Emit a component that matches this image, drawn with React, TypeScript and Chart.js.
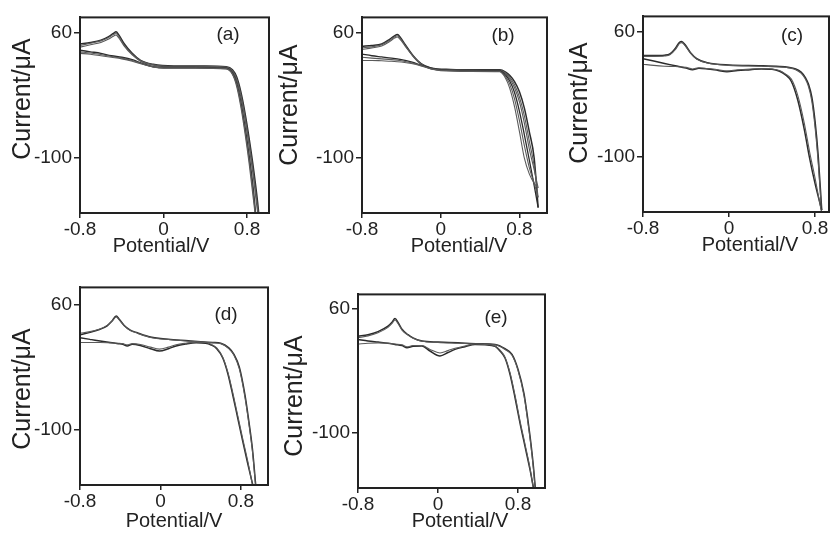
import React, { useEffect, useRef } from "react";
import { Chart, registerables } from "chart.js";

Chart.register(...registerables);

// ---------- axis texts ----------
const X_TICKS = [-0.8, 0, 0.8];
const X_TICK_LABELS = ["-0.8", "0", "0.8"];
const Y_TICKS = [-100, 60];
const Y_TICK_LABELS = ["-100", "60"];
const X_TITLE = "Potential/V";
const Y_TITLE = "Current/\u03bcA";
const PANEL_LABELS = ["(a)", "(b)", "(c)", "(d)", "(e)"];

// ---------- panel (a) ----------
const A_UP_X = [-0.8, -0.7, -0.6, -0.53, -0.48, -0.455, -0.43, -0.38, -0.3, -0.22, -0.1, 0.1, 0.4, 0.6, 0.66, 0.7, 0.74, 0.78, 0.82, 0.86, 0.9, 0.915];
const A_UP_Y1 = [46, 48, 51, 55, 59.5, 61.5, 58, 47, 34, 25, 20, 18, 18, 17, 13, 4, -15, -42, -75, -112, -155, -175];
const A_UP_Y2 = [44, 47, 50, 54, 58, 59.5, 56, 45, 33, 24.5, 19.5, 17.5, 17.5, 16.5, 12, 2, -18, -46, -80, -118, -162, -178];
const A_UP_Y3 = [42, 45, 48, 52, 56, 57.5, 54, 44, 32, 24, 19, 17, 17, 16, 11, 0, -21, -50, -85, -124, -168, -180];
const A_LOW_X = [-0.8, -0.7, -0.6, -0.5, -0.4, -0.3, -0.2, -0.1, 0, 0.3, 0.6, 0.66, 0.7, 0.74, 0.78, 0.82, 0.86, 0.885];
const A_LOW_Y1 = [38, 36, 34, 31, 29, 26, 21, 17, 16, 16, 15, 9, -4, -28, -60, -97, -140, -175];
const A_LOW_Y2 = [36, 34.5, 32.5, 30, 28, 25, 20.5, 17, 15.5, 15.5, 14.5, 8, -6, -31, -64, -102, -146, -178];
const A_LOW_Y3 = [34, 33, 31, 29, 27, 24, 20, 16.5, 15, 15, 14, 7, -8, -34, -68, -107, -152, -180];

// ---------- panel (b) ----------
const B_UP_X = [-0.8, -0.7, -0.6, -0.52, -0.47, -0.44, -0.41, -0.36, -0.28, -0.2, -0.1, 0.1, 0.4, 0.6, 0.66, 0.7, 0.75, 0.8, 0.85, 0.9, 0.95, 0.99];
const B_UP_Y1 = [43, 44, 46, 52, 56.5, 58, 54.5, 45, 31, 21, 15.5, 13.5, 13, 13, 10, 6, -2, -15, -36, -66, -100, -163];
const B_UP_Y2 = [41, 42.5, 45, 50.5, 55, 56.5, 53, 44, 30.5, 20.5, 15, 13, 12.5, 12.5, 9, 4, -6, -22, -46, -78, -110, -150];
const B_UP_Y3 = [39, 41, 43.5, 49, 53.5, 55, 51.5, 43, 30, 20, 14.5, 12.5, 12, 12, 8, 2, -10, -28, -55, -88, -115, -138];
const B_LOW_X = [-0.8, -0.7, -0.6, -0.5, -0.4, -0.3, -0.2, -0.1, 0, 0.3, 0.6, 0.66, 0.7, 0.75, 0.8, 0.85, 0.9, 0.95, 0.99];
const B_LOW_Y1 = [33, 31, 29.5, 28, 26, 23, 19, 15, 13, 12, 11.5, 6, -1, -16, -40, -70, -102, -135, -163];
const B_LOW_Y2 = [29, 28, 27, 26, 24.5, 22, 18.5, 14.5, 12.5, 11.5, 11, 4, -5, -24, -52, -84, -112, -132, -150];
const B_LOW_Y3 = [25, 25, 24.5, 24, 23, 21, 18, 14, 12, 11, 10.5, 2, -10, -34, -66, -100, -120, -132, -138];

// ---------- panel (c) ----------
const C_UP_X = [-0.8, -0.7, -0.6, -0.55, -0.5, -0.46, -0.44, -0.41, -0.36, -0.3, -0.2, 0, 0.3, 0.47, 0.55, 0.62, 0.67, 0.71, 0.74, 0.77, 0.8, 0.83, 0.862];
const C_UP_Y1 = [29, 29, 29.5, 31, 38, 46, 47, 43, 33, 25, 20, 17, 16, 15, 14, 12, 8, 1, -8, -24, -55, -100, -168];
const C_UP_Y2 = [28, 28, 28.5, 30, 36.5, 44.5, 45.5, 42, 32.5, 24.5, 19.5, 16.5, 15.5, 14.5, 13.5, 11, 6.5, -1, -11, -29, -62, -108, -172];
const C_LOW_X = [-0.8, -0.7, -0.6, -0.5, -0.4, -0.34, -0.28, -0.2, -0.1, -0.02, 0.08, 0.2, 0.3, 0.4, 0.47, 0.52, 0.58, 0.64, 0.7, 0.75, 0.8, 0.862];
const C_LOW_Y1 = [25, 22, 19, 16, 13, 11, 13, 12, 10, 8.5, 10, 11, 12, 11.5, 9, 5, -4, -28, -65, -102, -134, -168];
const C_LOW_Y2 = [18, 16.5, 15.5, 15, 14, 12, 13.5, 12.5, 11, 9.5, 11, 12, 12.5, 12, 10, 6, -1, -22, -57, -94, -127, -172];

// ---------- panel (d) ----------
const D_UP_X = [-0.8, -0.7, -0.6, -0.53, -0.48, -0.44, -0.41, -0.36, -0.3, -0.23, -0.1, 0.1, 0.3, 0.52, 0.6, 0.68, 0.73, 0.785, 0.84, 0.88, 0.915, 0.95];
const D_UP_Y1 = [22, 25, 29, 33.5, 40, 46, 42, 34, 28, 24.5, 19, 16, 14, 12, 11, 5, -3, -20, -55, -90, -125, -175];
const D_UP_Y2 = [24, 26, 29.5, 34, 39.5, 45, 41, 33.5, 27.5, 24, 18.5, 15.5, 13.5, 11.5, 10.5, 4, -4, -22, -58, -93, -128, -178];
const D_LOW_X = [-0.8, -0.7, -0.6, -0.5, -0.42, -0.375, -0.33, -0.28, -0.2, -0.1, -0.01, 0.08, 0.156, 0.25, 0.355, 0.45, 0.5, 0.56, 0.62, 0.67, 0.72, 0.77, 0.82, 0.87, 0.925];
const D_LOW_Y1 = [18, 16, 14, 12, 10.5, 9.6, 7.5, 9.6, 8, 4, 1, 4, 7.5, 10, 11.7, 11, 9, 4, -8, -28, -56, -86, -116, -145, -175];
const D_LOW_Y2 = [12, 12, 12, 11.5, 11, 10.5, 9, 10.5, 9.5, 6, 3.5, 6, 9, 11, 12.5, 12, 10, 5, -7, -26, -53, -83, -113, -142, -178];

// ---------- panel (e) ----------
const E_UP_X = [-0.8, -0.7, -0.6, -0.5, -0.46, -0.43, -0.4, -0.36, -0.3, -0.25, -0.16, 0, 0.2, 0.4, 0.57, 0.67, 0.74, 0.8, 0.86, 0.9, 0.93, 0.955, 0.975];
const E_UP_Y1 = [24, 26, 30, 37, 42, 46.8, 42, 33, 26, 22, 17.8, 16.5, 15.6, 14.5, 13.5, 8, 0.7, -18.5, -50, -85, -115, -145, -175];
const E_UP_Y2 = [22, 24.5, 28.5, 35.5, 40.5, 45, 40.5, 32, 25.5, 21.5, 17.5, 16, 15, 14, 13, 7, -0.5, -20, -53, -88, -118, -148, -178];
const E_LOW_X = [-0.8, -0.7, -0.6, -0.5, -0.43, -0.36, -0.31, -0.25, -0.16, -0.08, 0.02, 0.1, 0.17, 0.27, 0.37, 0.47, 0.57, 0.62, 0.67, 0.72, 0.77, 0.82, 0.87, 0.92, 0.96];
const E_LOW_Y1 = [20, 18, 16.5, 15, 13.5, 12, 9.2, 11, 11.4, 5, -1.4, 3, 7.1, 10.5, 13.5, 13, 11, 5, -4, -25, -55, -88, -118, -148, -175];
const E_LOW_Y2 = [14, 15, 15.5, 15, 14, 13, 10.5, 12, 12, 7, 2.5, 5.5, 8.5, 11.5, 14, 13.5, 11.5, 6, -3, -23, -52, -85, -115, -146, -178];

// ---------- layout ----------
const FONT = '"Liberation Sans", Arial, Helvetica, sans-serif';
const INK = "#222";
const DARK = "#2b2b2b";
const MID = "#5a5a5a";
const Y_AXIS_W = 95;
const X_AXIS_H = 55;
const PAD_T = 12;
const PAD_R = 12;

type Curve = { x: number[]; y: number[]; color: string; width: number };
type Panel = {
  label: string;
  box: [number, number, number, number]; // left, top, right, bottom (page px)
  xMax: number;
  yMin: number;
  yMax: number;
  yTitleAt: [number, number];
  xTitleAt: [number, number];
  labelAt: [number, number];
  curves: Curve[];
};

const c = (x: number[], y: number[], color: string, width: number): Curve => ({ x, y, color, width });

const PANELS: Panel[] = [
  {
    label: PANEL_LABELS[0], box: [80, 16, 269, 213], xMax: 1.01, yMin: -170, yMax: 80,
    yTitleAt: [23, 99], xTitleAt: [161, 246], labelAt: [228, 35],
    curves: [
      c(A_LOW_X, A_LOW_Y3, MID, 1.1), c(A_LOW_X, A_LOW_Y2, MID, 1.1), c(A_LOW_X, A_LOW_Y1, DARK, 1.4),
      c(A_UP_X, A_UP_Y3, MID, 1.1), c(A_UP_X, A_UP_Y2, MID, 1.1), c(A_UP_X, A_UP_Y1, DARK, 1.5),
    ],
  },
  {
    label: PANEL_LABELS[1], box: [362, 16, 547, 213], xMax: 1.08, yMin: -170, yMax: 80,
    yTitleAt: [290, 105], xTitleAt: [459, 246], labelAt: [503, 36],
    curves: [
      c(B_LOW_X, B_LOW_Y3, MID, 1.1), c(B_LOW_X, B_LOW_Y2, MID, 1.1), c(B_LOW_X, B_LOW_Y1, DARK, 1.3),
      c(B_UP_X, B_UP_Y3, MID, 1.1), c(B_UP_X, B_UP_Y2, MID, 1.1), c(B_UP_X, B_UP_Y1, DARK, 1.5),
    ],
  },
  {
    label: PANEL_LABELS[2], box: [643, 15, 829, 212], xMax: 0.93, yMin: -170.5, yMax: 79,
    yTitleAt: [580, 103], xTitleAt: [750, 245], labelAt: [792, 36],
    curves: [
      c(C_LOW_X, C_LOW_Y2, MID, 1.1), c(C_LOW_X, C_LOW_Y1, DARK, 1.5),
      c(C_UP_X, C_UP_Y2, MID, 1.1), c(C_UP_X, C_UP_Y1, DARK, 1.6),
    ],
  },
  {
    label: PANEL_LABELS[3], box: [80, 286, 268, 485], xMax: 1.07, yMin: -171.7, yMax: 83,
    yTitleAt: [23, 389], xTitleAt: [174, 521], labelAt: [226, 315],
    curves: [
      c(D_LOW_X, D_LOW_Y2, MID, 1.1), c(D_LOW_X, D_LOW_Y1, DARK, 1.5),
      c(D_UP_X, D_UP_Y2, MID, 1.1), c(D_UP_X, D_UP_Y1, DARK, 1.5),
    ],
  },
  {
    label: PANEL_LABELS[4], box: [358, 293, 545, 488], xMax: 1.07, yMin: -171.7, yMax: 78,
    yTitleAt: [295, 396], xTitleAt: [460, 521], labelAt: [496, 318],
    curves: [
      c(E_LOW_X, E_LOW_Y2, MID, 1.1), c(E_LOW_X, E_LOW_Y1, DARK, 1.5),
      c(E_UP_X, E_UP_Y2, MID, 1.1), c(E_UP_X, E_UP_Y1, DARK, 1.5),
    ],
  },
];

function PanelChart({ p }: { p: Panel }) {
  const ref = useRef<HTMLCanvasElement | null>(null);
  const [L, T, R, B] = p.box;
  const ox = L - Y_AXIS_W;
  const oy = T - PAD_T;
  const w = R - L + Y_AXIS_W + PAD_R;
  const h = B - T + PAD_T + X_AXIS_H;

  useEffect(() => {
    if (!ref.current) return;
    const decor = {
      id: "decor",
      afterDraw(chart: any) {
        const { ctx, chartArea: ca } = chart;
        ctx.save();
        ctx.strokeStyle = INK;
        ctx.lineWidth = 2;
        ctx.strokeRect(ca.left, ca.top, ca.right - ca.left, ca.bottom - ca.top);
        ctx.fillStyle = INK;
        ctx.textAlign = "center";
        ctx.textBaseline = "middle";
        ctx.font = `20px ${FONT}`;
        ctx.fillText(X_TITLE, p.xTitleAt[0] - ox, p.xTitleAt[1] - oy);
        ctx.font = `19px ${FONT}`;
        ctx.fillText(p.label, p.labelAt[0] - ox, p.labelAt[1] - oy);
        ctx.translate(p.yTitleAt[0] - ox, p.yTitleAt[1] - oy);
        ctx.rotate(-Math.PI / 2);
        ctx.font = `25px ${FONT}`;
        ctx.fillText(Y_TITLE, 0, 0);
        ctx.restore();
      },
    };
    const chart = new Chart(ref.current, {
      type: "scatter",
      data: {
        datasets: p.curves.map((cv) => ({
          data: cv.x.map((x, i) => ({ x, y: cv.y[i] })),
          showLine: true,
          borderColor: cv.color,
          borderWidth: cv.width,
          pointRadius: 0,
          pointHoverRadius: 0,
          cubicInterpolationMode: "monotone" as const,
          fill: false,
        })),
      },
      options: {
        animation: false,
        responsive: false,
        maintainAspectRatio: false,
        events: [],
        layout: { padding: { left: 0, top: PAD_T, right: PAD_R, bottom: 0 } },
        plugins: { legend: { display: false }, tooltip: { enabled: false } },
        scales: {
          x: {
            type: "linear",
            min: -0.8,
            max: p.xMax,
            afterBuildTicks: (s: any) => {
              s.ticks = X_TICKS.map((v) => ({ value: v }));
            },
            afterFit: (s: any) => {
              s.height = X_AXIS_H;
            },
            grid: { drawOnChartArea: false, drawTicks: true, tickLength: 5, tickColor: INK, lineWidth: 1.5 },
            border: { display: true, color: INK, width: 2 },
            ticks: {
              autoSkip: false,
              maxRotation: 0,
              padding: 0,
              color: INK,
              font: { family: FONT, size: 19 },
              callback: (v: any) => {
                const i = X_TICKS.findIndex((t) => Math.abs(t - Number(v)) < 1e-9);
                return i >= 0 ? X_TICK_LABELS[i] : "";
              },
            },
          },
          y: {
            type: "linear",
            min: p.yMin,
            max: p.yMax,
            afterBuildTicks: (s: any) => {
              s.ticks = Y_TICKS.map((v) => ({ value: v }));
            },
            afterFit: (s: any) => {
              s.width = Y_AXIS_W;
            },
            grid: { drawOnChartArea: false, drawTicks: true, tickLength: 6, tickColor: INK, lineWidth: 1.5 },
            border: { display: true, color: INK, width: 2 },
            ticks: {
              autoSkip: false,
              padding: 2,
              color: INK,
              font: { family: FONT, size: 19 },
              callback: (v: any) => {
                const i = Y_TICKS.findIndex((t) => Math.abs(t - Number(v)) < 1e-9);
                return i >= 0 ? Y_TICK_LABELS[i] : "";
              },
            },
          },
        },
      },
      plugins: [decor],
    } as any);
    return () => chart.destroy();
  }, [p]);

  return (
    <canvas
      ref={ref}
      width={w}
      height={h}
      style={{ position: "absolute", left: ox, top: oy, width: w, height: h }}
    />
  );
}

export default function App() {
  return (
    <div
      style={{
        position: "absolute",
        left: 0,
        top: 0,
        width: 831,
        height: 534,
        overflow: "hidden",
        background: "#fff",
      }}
    >
      {PANELS.map((p) => (
        <PanelChart key={p.label} p={p} />
      ))}
    </div>
  );
}
